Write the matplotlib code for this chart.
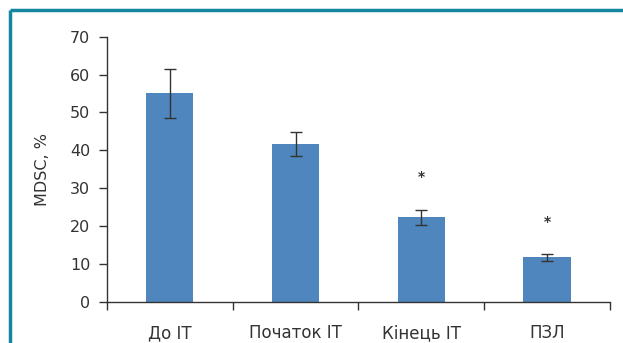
import matplotlib.pyplot as plt
from matplotlib.lines import Line2D

categories = ['До IT', 'Початок IT', 'Кінець IT', 'ПЗЛ']
values = [55.0, 41.6, 22.3, 11.7]
errors = [6.5, 3.1, 2.0, 1.0]
stars = ['', '', '*', '*']
star_y = [0, 0, 33, 21]

plt.rcParams['font.family'] = ['DejaVu Sans']
txt = '#333333'

fig = plt.figure(figsize=(6.23, 3.43), dpi=100)
ax = fig.add_axes([0.1717, 0.1204, 0.8073, 0.7726])

x = list(range(len(categories)))
ax.bar(x, values, width=0.375, color='#4f86bd', zorder=2)
ax.errorbar(x, values, yerr=errors, fmt='none', ecolor='#333333',
            elinewidth=1, capsize=4, capthick=1, zorder=3)
for xi, s, sy in zip(x, stars, star_y):
    if s:
        ax.text(xi, sy, s, ha='center', va='center', fontsize=10,
                fontweight='bold', color=txt)

ax.set_xlim(-0.5, len(categories) - 0.5)
ax.set_ylim(0, 70)
ax.set_yticks(range(0, 71, 10))
ax.set_xticks([i - 0.5 for i in range(len(categories) + 1)], minor=False)
ax.set_xticklabels([])
ax.set_xticks(x, minor=True)
ax.set_xticklabels(categories, minor=True)
ax.tick_params(axis='x', which='minor', length=0, pad=16, labelsize=12, labelcolor=txt)
ax.tick_params(axis='x', which='major', length=6, width=1, color='#333333')
ax.tick_params(axis='y', length=6, width=1, color='#333333', labelsize=11.5, labelcolor=txt, pad=6)
ax.set_ylabel('MDSC, %', fontsize=11.5, color=txt, labelpad=14)

for side in ['top', 'right']:
    ax.spines[side].set_visible(False)
for side in ['left', 'bottom']:
    ax.spines[side].set_color('#333333')
    ax.spines[side].set_linewidth(1)

# teal frame, top and left
teal = '#14879e'
fig.add_artist(Line2D([9.5 / 623, 1], [1 - 9.5 / 343, 1 - 9.5 / 343], color=teal, lw=2.5,
                      transform=fig.transFigure, solid_capstyle='butt'))
fig.add_artist(Line2D([9.5 / 623, 9.5 / 623], [0, 1 - 9.5 / 343], color=teal, lw=2.5,
                      transform=fig.transFigure, solid_capstyle='butt'))

fig.savefig('out.png', dpi=100)
